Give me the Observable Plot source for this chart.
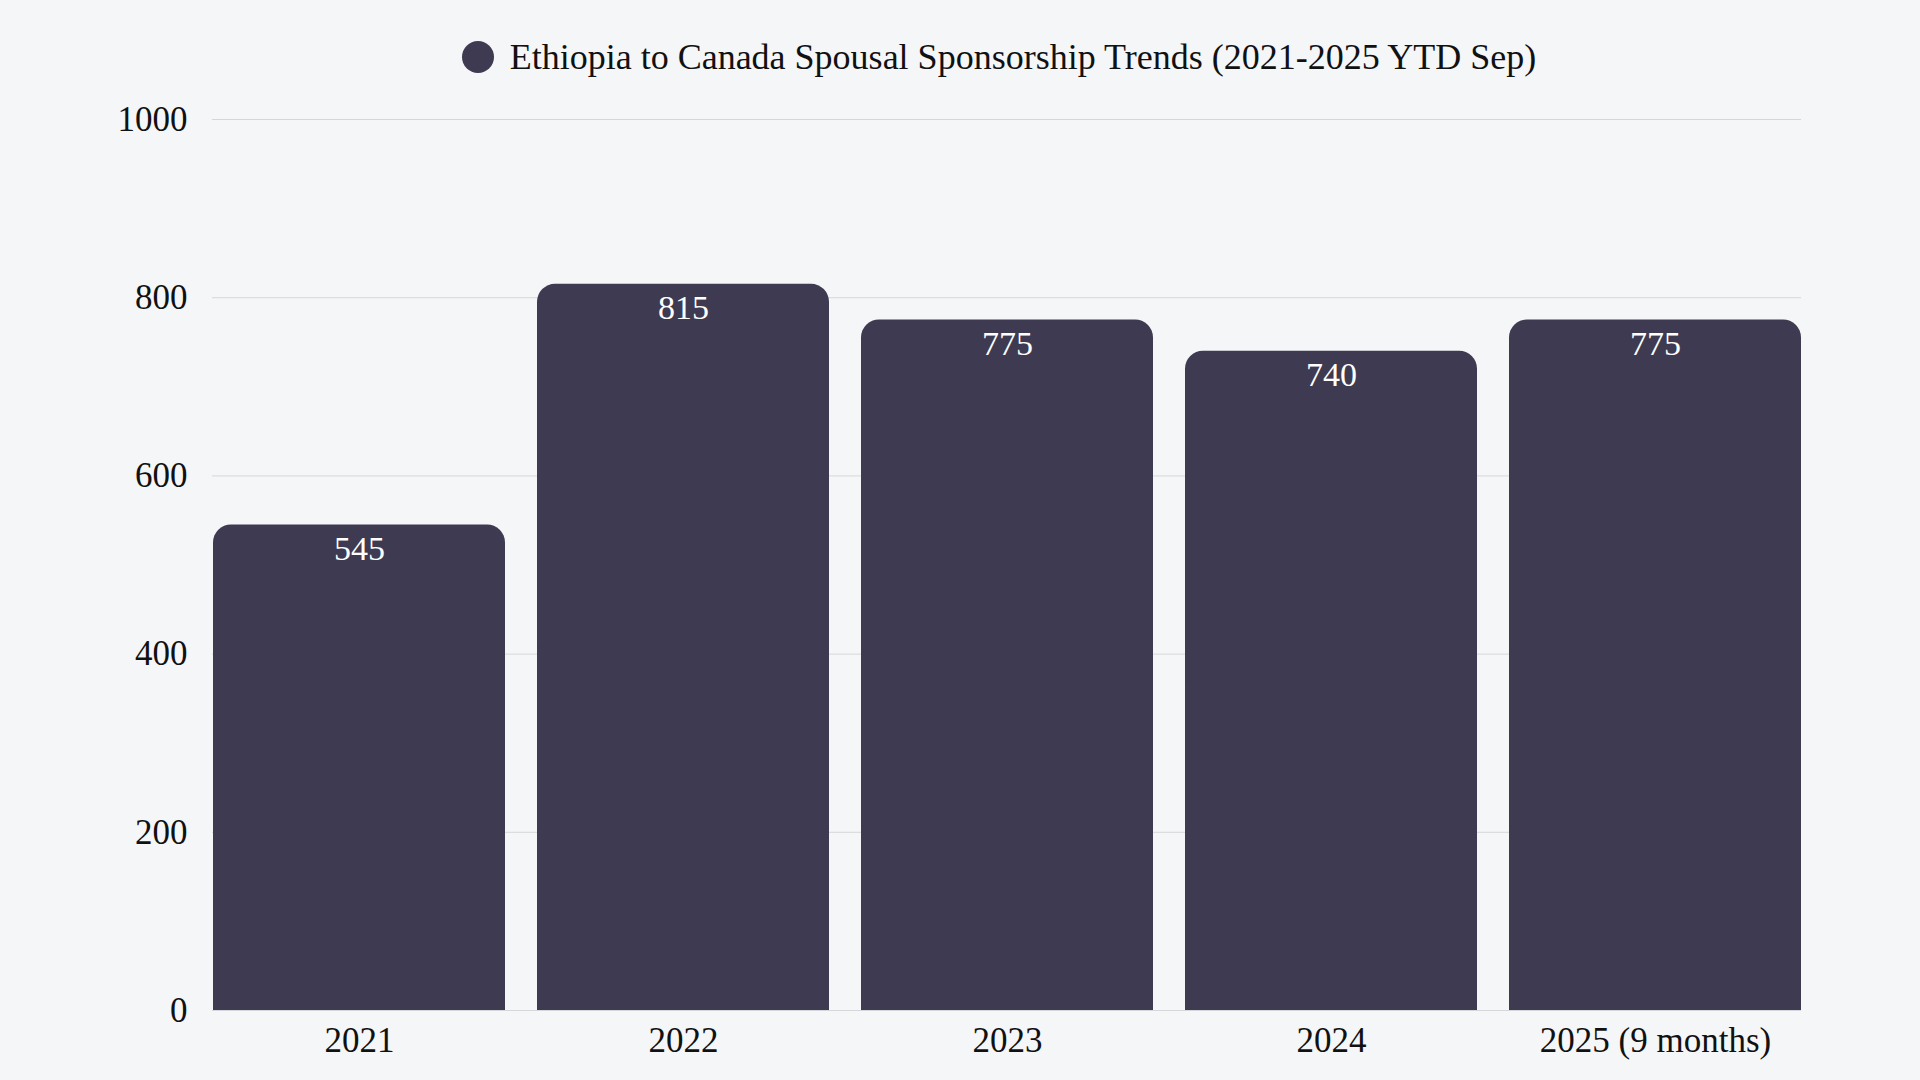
<!DOCTYPE html>
<html>
<head>
<meta charset="utf-8">
<script src="https://cdn.jsdelivr.net/npm/d3@7"></script>
<script src="https://cdn.jsdelivr.net/npm/@observablehq/plot@0.6"></script>
<style>
  html, body { margin: 0; padding: 0; background: #f5f6f8; }
  body { width: 1920px; height: 1080px; overflow: hidden; font-family: "Liberation Serif", serif; }
  #title { height: 90px; box-sizing: border-box; padding-top: 37px; padding-left: 78px; display: flex; justify-content: center; align-items: flex-start; }
  #title .row { display: flex; align-items: center; height: 40px; }
  #title .dot { width: 32px; height: 32px; border-radius: 50%; background: #3e3a51; margin-right: 16px; }
  #title .txt { font-size: 36px; color: #111; line-height: 40px; white-space: nowrap; }
  svg { display: block; }
</style>
</head>
<body>
<div id="title"><div class="row"><div class="dot"></div><div class="txt">Ethiopia to Canada Spousal Sponsorship Trends (2021-2025 YTD Sep)</div></div></div>
<div id="chart"></div>
<script>
const years = ["2021", "2022", "2023", "2024", "2025 (9 months)"];
const counts = [545, 815, 775, 740, 775];
const yTicks = [0, 200, 400, 600, 800, 1000];

const data = years.map((year, i) => ({year, count: counts[i]}));
const barColor = "#3e3a51";

const chart = Plot.plot({
  width: 1920,
  height: 990,
  marginTop: 29,
  marginBottom: 70,
  marginLeft: 212,
  marginRight: 119,
  style: {background: "transparent", fontFamily: "Liberation Serif, serif", fontSize: "35px", color: "#111"},
  x: {domain: years, paddingInner: 0.1, paddingOuter: 0, label: null},
  y: {domain: [0, 1000], ticks: yTicks, label: null},
  marks: [
    Plot.gridY(yTicks, {stroke: "#d6d7db", strokeOpacity: 1, strokeWidth: 1}),
    Plot.axisY({ticks: yTicks, tickSize: 0, tickPadding: 25, fontSize: 35, tickFormat: d => String(d), label: null}),
    Plot.axisX({tickSize: 0, tickPadding: 17, fontSize: 35, label: null}),
    Plot.barY(data, {x: "year", y: "count", fill: barColor, rx: 18}),
    Plot.barY(data, {x: "year", y1: 0, y2: d => d.count / 2, fill: barColor}),
    Plot.text(data, {x: "year", y: "count", text: d => String(d.count), fill: "white", fontSize: 34, dy: 24})
  ]
});
document.getElementById("chart").appendChild(chart);
</script>
</body>
</html>
